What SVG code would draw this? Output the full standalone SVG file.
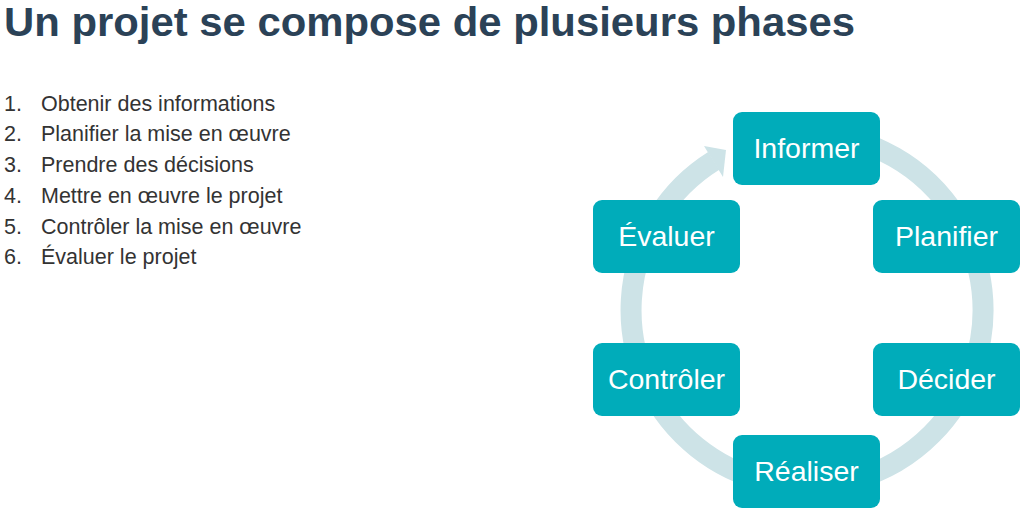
<svg xmlns="http://www.w3.org/2000/svg" width="1029" height="531" viewBox="0 0 1029 531">
<style>
.t{font-family:"Liberation Sans",Arial,sans-serif}
.li{font-size:21.5px;fill:#333}
.box{fill:#00ACBA}
.bt{font-size:28.5px;fill:#fff;text-anchor:middle}
</style>
<rect width="1029" height="531" fill="#fff"/>
<text class="t" x="4" y="36" font-size="40" font-weight="bold" fill="#2B4257" textLength="851" lengthAdjust="spacingAndGlyphs">Un projet se compose de plusieurs phases</text>
<g class="t li">
<text x="4" y="111">1.</text><text x="41" y="111">Obtenir des informations</text>
<text x="4" y="141">2.</text><text x="41" y="141">Planifier la mise en œuvre</text>
<text x="4" y="172">3.</text><text x="41" y="172">Prendre des décisions</text>
<text x="4" y="203">4.</text><text x="41" y="203">Mettre en œuvre le projet</text>
<text x="4" y="234">5.</text><text x="41" y="234">Contrôler la mise en œuvre</text>
<text x="4" y="264">6.</text><text x="41" y="264">Évaluer le projet</text>
</g>
<g id="connectors">
<path d="M807,134 A176,176 0 1,1 713.7,160.8" fill="none" stroke="#CDE3E7" stroke-width="21"/>
<polygon points="726,150 704,146 723,177" fill="#CDE3E7"/>
</g>
<g id="informer"><rect class="box" x="733" y="112" width="147" height="73" rx="9"/><text class="t bt" x="806.5" y="158">Informer</text></g>
<g id="planifier"><rect class="box" x="873" y="200" width="147" height="73" rx="9"/><text class="t bt" x="946.5" y="246">Planifier</text></g>
<g id="decider"><rect class="box" x="873" y="343" width="147" height="73" rx="9"/><text class="t bt" x="946.5" y="389">Décider</text></g>
<g id="realiser"><rect class="box" x="733" y="435" width="147" height="73" rx="9"/><text class="t bt" x="806.5" y="481">Réaliser</text></g>
<g id="controler"><rect class="box" x="593" y="343" width="147" height="73" rx="9"/><text class="t bt" x="666.5" y="389">Contrôler</text></g>
<g id="evaluer"><rect class="box" x="593" y="200" width="147" height="73" rx="9"/><text class="t bt" x="666.5" y="246">Évaluer</text></g>
</svg>
